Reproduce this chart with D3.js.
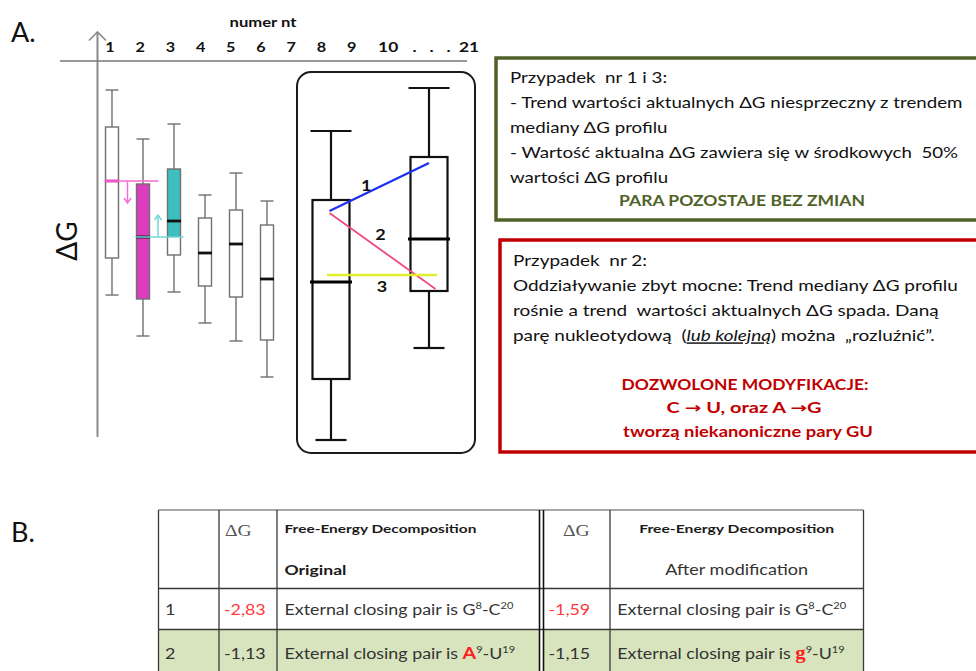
<!DOCTYPE html>
<html>
<head>
<meta charset="utf-8">
<script src="https://cdn.jsdelivr.net/npm/d3@7"></script>
<style>
  body { margin: 0; background: #fff; }
  svg { display: block; }
  text { white-space: pre; }
</style>
</head>
<body>
<svg id="fig" width="976" height="671"></svg>
<script>
// ---- top axis: nucleotide numbers ----
const ntLabels = ["1", "2", "3", "4", "5", "6", "7", "8", "9", "10", ". . .", "21"];

// ---- ΔG profile boxes, nucleotides 1–6 (schematic ΔG units) ----
const profileNt     = ["1", "2", "3", "4", "5", "6"];
const profileHigh   = [-2.9, -7.8, -6.3, -13.4, -11.2, -14.0];
const profileQ3     = [-6.6, -12.3, -10.8, -15.7, -14.9, -16.4];
const profileMedian = [-12.0, -17.6, -16.0, -19.2, -18.3, -21.8];
const profileQ1     = [-19.7, -23.8, -19.4, -22.5, -23.6, -27.9];
const profileLow    = [-23.4, -27.5, -23.1, -26.2, -28.0, -31.6];

// actual ΔG of the pair at nt 1 and nt 2 and the direction of its trend
const actualNt    = ["1", "2"];
const actualDG    = [-12.0, -17.6];
const actualShift = [-2.2, 2.2];

// ---- boxed comparison, nt 8 against nt 10…21 ----
const caseNt     = ["8", "10…21"];
const caseHigh   = [-7.0, -2.7];
const caseQ3     = [-13.9, -9.6];
const caseMedian = [-22.1, -17.8];
const caseQ1     = [-31.8, -23.0];
const caseLow    = [-37.9, -28.7];

// three possible trends of the actual ΔG between the two positions
const trendIds   = ["1", "2", "3"];
const trendStart = [-15.0, -15.2, -21.4];
const trendEnd   = [-10.2, -22.8, -21.4];

// ---- panel B table ----
const rowIds      = ["1", "2"];
const dgOriginal  = [-2.83, -1.13];
const dgModified  = [-1.59, -1.15];
const pairOriginal = [["G", "8", "C", "20"], ["A", "9", "U", "19"]];
const pairModified = [["G", "8", "C", "20"], ["g", "9", "U", "19"]];
const changedBase  = [false, true];

const SANS = "Lato, 'DejaVu Sans', sans-serif";
const SERIF = "'Liberation Serif', 'DejaVu Serif', serif";
const svg = d3.select("#fig");

// ---------- helpers ----------
function stretch(t, s) {
  const x = +t.attr("x");
  t.attr("transform", `translate(${x},0) scale(${s},1) translate(${-x},0)`);
}
function textLine(g, x, yb, segs, o = {}) {
  const t = g.append("text")
    .attr("x", x).attr("y", yb)
    .attr("font-family", o.family || SANS)
    .attr("font-size", o.size || 14)
    .attr("font-weight", o.weight || "normal")
    .attr("fill", o.color || "#1a1a1a")
    .attr("text-anchor", o.anchor || "start");
  let shift = 0;
  segs.forEach(s => {
    if (typeof s === "string") s = { t: s };
    const sp = t.append("tspan").text(s.t);
    const want = s.sup ? -6 : 0;
    if (want !== shift) { sp.attr("dy", want - shift); shift = want; }
    if (s.sup) sp.attr("font-size", (o.size || 14) * 0.62);
    if (s.italic) sp.attr("font-style", "italic");
    if (s.underline) sp.attr("text-decoration", "underline");
    if (s.bold) sp.attr("font-weight", "bold");
    if (s.color) sp.attr("fill", s.color);
    if (s.family) sp.attr("font-family", s.family);
    if (s.size) sp.attr("font-size", s.size);
  });
  return t;
}

// ---------- panel A: schematic axes ----------
svg.append("text").attr("x", 11).attr("y", 41.5)
  .attr("font-family", SANS).attr("font-size", 27).attr("fill", "#111").text("A.");

const y = d3.scaleLinear().domain([0, -40]).range([61, 461]);
const ntX = d3.scaleLinear().domain([1, 9]).range([110, 351.6]);
const xProfile = d3.scalePoint().domain(profileNt).range([112, 267]);
const xCase = d3.scalePoint().domain(caseNt).range([331, 429]);

const axes = svg.append("g");
axes.append("line").attr("x1", 97.5).attr("x2", 97.5).attr("y1", 32).attr("y2", 437)
  .attr("stroke", "#8a8a8a").attr("stroke-width", 2);
axes.append("path").attr("d", "M89,40.5 L97.5,32 L106,40.5")
  .attr("fill", "none").attr("stroke", "#8a8a8a").attr("stroke-width", 1.6);
axes.append("line").attr("x1", 60).attr("x2", 467).attr("y1", 61).attr("y2", 61)
  .attr("stroke", "#777").attr("stroke-width", 1.6);

const nt = axes.append("text").attr("x", 263).attr("y", 27)
  .attr("font-family", SANS).attr("font-weight", "bold").attr("font-size", 13.5)
  .attr("text-anchor", "middle").attr("fill", "#111").text("numer nt");
stretch(nt, 67 / nt.node().getComputedTextLength());

// numbers 1–9 sit on the nucleotide scale; "10 . . . 21" follows as running text
const topY = 52.5;
ntLabels.slice(0, 9).forEach((t, i) => {
  const lab = axes.append("text").attr("x", ntX(i + 1)).attr("y", topY)
    .attr("font-family", SANS).attr("font-weight", "bold").attr("font-size", 13.5)
    .attr("text-anchor", "middle").attr("fill", "#111").text(t);
  stretch(lab, 1.2);
});
const tail = axes.append("text").attr("x", ntX(9) + 26.5).attr("y", topY)
  .attr("font-family", SANS).attr("font-weight", "bold").attr("font-size", 13.5).attr("fill", "#111");
tail.append("tspan").text(ntLabels[9]);
tail.append("tspan").attr("dx", 11).attr("letter-spacing", 3.4).text(ntLabels[10]);
tail.append("tspan").attr("dx", 3).text(ntLabels[11]);
stretch(tail, 83 / tail.node().getComputedTextLength());

svg.append("text").attr("transform", "translate(76.5,241) rotate(-90)")
  .attr("font-family", SANS).attr("font-size", 28).attr("text-anchor", "middle")
  .attr("fill", "#111").text("ΔG");

// ---------- profile boxes ----------
const profile = profileNt.map((nt, i) => ({
  nt, hi: profileHigh[i], q3: profileQ3[i], med: profileMedian[i], q1: profileQ1[i], lo: profileLow[i]
}));
const pw = 13, grey = "#707070";
const pg = svg.append("g");
profile.forEach(d => {
  const cx = xProfile(d.nt);
  const b = pg.append("g");
  b.append("line").attr("x1", cx).attr("x2", cx).attr("y1", y(d.hi)).attr("y2", y(d.q3))
    .attr("stroke", grey).attr("stroke-width", 1.4);
  b.append("line").attr("x1", cx).attr("x2", cx).attr("y1", y(d.q1)).attr("y2", y(d.lo))
    .attr("stroke", grey).attr("stroke-width", 1.4);
  [d.hi, d.lo].forEach(v => b.append("line")
    .attr("x1", cx - pw / 2).attr("x2", cx + pw / 2).attr("y1", y(v)).attr("y2", y(v))
    .attr("stroke", grey).attr("stroke-width", 1.4));
  let fill = "#fff";
  if (d.nt === "2") fill = "#dd3cbe";
  b.append("rect").attr("x", cx - pw / 2).attr("y", y(d.q3)).attr("width", pw)
    .attr("height", y(d.q1) - y(d.q3)).attr("fill", fill);
  if (d.nt === "3") {
    // part of the box above the actual ΔG of nt 2
    b.append("rect").attr("x", cx - pw / 2).attr("y", y(d.q3)).attr("width", pw)
      .attr("height", y(actualDG[1]) - y(d.q3)).attr("fill", "#3ebfbf");
  }
  b.append("rect").attr("x", cx - pw / 2).attr("y", y(d.q3)).attr("width", pw)
    .attr("height", y(d.q1) - y(d.q3)).attr("fill", "none")
    .attr("stroke", grey).attr("stroke-width", 1.4);
  b.append("line").attr("x1", cx - pw / 2 - 0.5).attr("x2", cx + pw / 2 + 0.5)
    .attr("y1", y(d.med)).attr("y2", y(d.med))
    .attr("stroke", d.nt === "1" ? "#d8229a" : "#111").attr("stroke-width", 2.8);
});

// actual ΔG levels with their trend arrows
const levelColors = ["#f46ad6", "#6fd6d6"];
actualNt.forEach((nt, i) => {
  const next = profileNt[profileNt.indexOf(nt) + 1];
  const x0 = xProfile(nt) - pw / 2 - 1;
  const x1 = xProfile(next) + pw / 2 + (i === 0 ? 9 : 3);
  const ly = y(actualDG[i]);
  const c = levelColors[i];
  pg.append("line").attr("x1", x0).attr("x2", x1).attr("y1", ly).attr("y2", ly)
    .attr("stroke", c).attr("stroke-width", i === 0 ? 1.4 : 1.6);
  const ax = (xProfile(nt) + xProfile(next)) / 2 + (i === 0 ? 0 : -0.5);
  const ay = y(actualDG[i] + actualShift[i]);
  const dir = Math.sign(ay - ly);
  pg.append("line").attr("x1", ax).attr("x2", ax).attr("y1", ly).attr("y2", ay)
    .attr("stroke", c).attr("stroke-width", 1.4);
  pg.append("path")
    .attr("d", `M${ax - 3.5},${ay - dir * 5} L${ax},${ay} L${ax + 3.5},${ay - dir * 5}`)
    .attr("fill", "none").attr("stroke", c).attr("stroke-width", 1.4);
});

// ---------- boxed comparison ----------
const cg = svg.append("g");
cg.append("rect").attr("x", 297).attr("y", 72).attr("width", 178).attr("height", 381)
  .attr("rx", 14).attr("fill", "none").attr("stroke", "#1a1a1a").attr("stroke-width", 2);
const cw = 37;
caseNt.forEach((nt, i) => {
  const cx = xCase(nt);
  const hi = caseHigh[i], q3 = caseQ3[i], med = caseMedian[i], q1 = caseQ1[i], lo = caseLow[i];
  cg.append("line").attr("x1", cx).attr("x2", cx).attr("y1", y(hi)).attr("y2", y(q3))
    .attr("stroke", "#111").attr("stroke-width", 2.2);
  cg.append("line").attr("x1", cx).attr("x2", cx).attr("y1", y(q1)).attr("y2", y(lo))
    .attr("stroke", "#111").attr("stroke-width", 2.2);
  cg.append("line").attr("x1", cx - 20.5).attr("x2", cx + 20.5).attr("y1", y(hi)).attr("y2", y(hi))
    .attr("stroke", "#111").attr("stroke-width", 2.2);
  cg.append("line").attr("x1", cx - 15.5).attr("x2", cx + 15.5).attr("y1", y(lo)).attr("y2", y(lo))
    .attr("stroke", "#111").attr("stroke-width", 2.2);
  cg.append("rect").attr("x", cx - cw / 2).attr("y", y(q3)).attr("width", cw)
    .attr("height", y(q1) - y(q3)).attr("fill", "#fff").attr("stroke", "#111").attr("stroke-width", 2.2);
  cg.append("line").attr("x1", cx - cw / 2 - 2.5).attr("x2", cx + cw / 2 + 2.5)
    .attr("y1", y(med)).attr("y2", y(med)).attr("stroke", "#000").attr("stroke-width", 3);
});

const trendColors = ["#1c30f0", "#f04a80", "#e2ef2c"];
const trendWidths = [2.3, 1.8, 2.3];
const trendX0 = [-1.5, -1.5, -4];
const trendX1 = [0, 6.5, 8];
trendIds.forEach((id, i) => {
  const xa = xCase(caseNt[0]) + trendX0[i], xb = xCase(caseNt[1]) + trendX1[i];
  cg.append("line").attr("x1", xa).attr("x2", xb)
    .attr("y1", y(trendStart[i])).attr("y2", y(trendEnd[i]))
    .attr("stroke", trendColors[i]).attr("stroke-width", trendWidths[i]);
});
// labels of the three trends
const labelAt = [[0.37, -2], [0.48, -9.5], [0.5, 17]];
trendIds.forEach((id, i) => {
  const xa = xCase(caseNt[0]) + trendX0[i], xb = xCase(caseNt[1]) + trendX1[i];
  const t = labelAt[i][0];
  const lx = xa + (xb - xa) * t;
  const ly = y(trendStart[i] + (trendEnd[i] - trendStart[i]) * t) + labelAt[i][1];
  const lab = cg.append("text").attr("x", lx).attr("y", ly)
    .attr("font-family", SANS).attr("font-weight", "bold").attr("font-size", 15)
    .attr("text-anchor", "middle").attr("fill", "#111").text(id);
  stretch(lab, 1.2);
});

// ---------- case descriptions ----------
const green = "#4f6228", red = "#c00000";
const gb = svg.append("g");
gb.append("rect").attr("x", 496).attr("y", 58).attr("width", 520).attr("height", 162)
  .attr("fill", "none").attr("stroke", green).attr("stroke-width", 3.5);
const gLines = [
  ["Przypadek  nr 1 i 3:"],
  ["- Trend wartości aktualnych ΔG niesprzeczny z trendem"],
  ["mediany ΔG profilu"],
  ["- Wartość aktualna ΔG zawiera się w środkowych  50%"],
  ["wartości ΔG profilu"]
];
const gTexts = gLines.map((segs, i) => textLine(gb, 510, 83.5 + i * 24.8, segs, { size: 14.5, color: "#111" }));
const gS = 453 / gTexts[1].node().getComputedTextLength();
gTexts.forEach(t => stretch(t, gS));
const gHead = textLine(gb, 742, 206.5, ["PARA POZOSTAJE BEZ ZMIAN"],
  { size: 14.5, weight: "bold", color: green, anchor: "middle" });
stretch(gHead, 246 / gHead.node().getComputedTextLength());

const rb = svg.append("g");
rb.append("rect").attr("x", 500).attr("y", 240).attr("width", 520).attr("height", 212)
  .attr("fill", "none").attr("stroke", red).attr("stroke-width", 3.5);
const rLines = [
  ["Przypadek  nr 2:"],
  ["Oddziaływanie zbyt mocne: Trend mediany ΔG profilu"],
  ["rośnie a trend  wartości aktualnych ΔG spada. Daną"],
  ["parę nukleotydową  (", { t: "lub kolejną", italic: true, underline: true }, ") można  „rozluźnić”."]
];
const rTexts = rLines.map((segs, i) => textLine(rb, 513, 266.5 + i * 25, segs, { size: 14.5, color: "#111" }));
const rS = 445 / rTexts[1].node().getComputedTextLength();
rTexts.forEach(t => stretch(t, rS));
const rBold = [
  [["DOZWOLONE MODYFIKACJE:"], 745, 390, 247],
  [["C ", { t: "→", family: "'DejaVu Sans', sans-serif" }, " U, oraz A ", { t: "→", family: "'DejaVu Sans', sans-serif" }, "G"], 744, 413.5, 155],
  [["tworzą niekanoniczne pary GU"], 748, 437, 250]
];
rBold.forEach(([segs, x, yb, w]) => {
  const t = textLine(rb, x, yb, segs, { size: 14.5, weight: "bold", color: red, anchor: "middle" });
  stretch(t, w / t.node().getComputedTextLength());
});

// ---------- panel B: energy table ----------
svg.append("text").attr("x", 11).attr("y", 541.5)
  .attr("font-family", SANS).attr("font-size", 27).attr("fill", "#111").text("B.");

const tb = svg.append("g");
const rowTop = [588.5, 629.5], rowBottom = [629.5, 680];
// row 2 shading
tb.append("rect").attr("x", 158.5).attr("y", rowTop[1]).attr("width", 863.5 - 158.5)
  .attr("height", rowBottom[1] - rowTop[1]).attr("fill", "#d7e4bd");
tb.append("rect").attr("x", 539.5).attr("y", rowTop[1]).attr("width", 4)
  .attr("height", rowBottom[1] - rowTop[1]).attr("fill", "#fff");
// grid
tb.append("line").attr("x1", 158.5).attr("x2", 863.5).attr("y1", 510).attr("y2", 510)
  .attr("stroke", "#8a8a8a").attr("stroke-width", 1.3);
[588.5, 629.5].forEach(v => tb.append("line").attr("x1", 158.5).attr("x2", 863.5)
  .attr("y1", v).attr("y2", v).attr("stroke", "#3a3a3a").attr("stroke-width", 1.3));
[158.5, 219, 277, 610, 863.5].forEach(v => tb.append("line").attr("x1", v).attr("x2", v)
  .attr("y1", 510).attr("y2", 671).attr("stroke", "#3a3a3a").attr("stroke-width", 1.3));
[539.5, 543.5].forEach(v => tb.append("line").attr("x1", v).attr("x2", v)
  .attr("y1", 510).attr("y2", 671).attr("stroke", "#111").attr("stroke-width", 1.6));

// table text
const cellText = "#333";
const refRow = textLine(tb, 284.5, 615, ["External closing pair is G", { t: "8", sup: true }, "-C", { t: "20", sup: true }],
  { size: 15.5, color: cellText });
const tS = 229 / refRow.node().getComputedTextLength();
refRow.remove();

function cell(x, yb, segs, o) {
  const t = textLine(tb, x, yb, segs, Object.assign({ size: 15.5, color: cellText }, o || {}));
  stretch(t, tS);
  return t;
}
cell(225, 536.5, ["ΔG"], { family: SERIF, size: 17, color: "#555" });
cell(563, 536.5, ["ΔG"], { family: SERIF, size: 17, color: "#555" });
const fe1 = textLine(tb, 284.5, 533.5, ["Free-Energy Decomposition"], { size: 12, weight: "bold", color: "#1a1a1a" });
stretch(fe1, 192 / fe1.node().getComputedTextLength());
const fe2 = textLine(tb, 736.7, 533.5, ["Free-Energy Decomposition"], { size: 12, weight: "bold", color: "#1a1a1a", anchor: "middle" });
stretch(fe2, 195 / fe2.node().getComputedTextLength());
const og = textLine(tb, 284.5, 575, ["Original"], { size: 14, weight: "bold", color: "#1a1a1a" });
stretch(og, 62 / og.node().getComputedTextLength());
const am = textLine(tb, 736.7, 575, ["After modification"], { size: 14.5, color: cellText, anchor: "middle" });
stretch(am, 143 / am.node().getComputedTextLength());

// ΔG values written with a hyphen and a decimal comma
const fmt = v => d3.format(".2f")(v).replace("\u2212", "-").replace(".", ",");
const rowBase = [615, 659];
rowIds.forEach((id, i) => {
  const yb = rowBase[i];
  const valColor = changedBase[i] ? "#333" : "#ff3b3b";
  cell(165, yb, [id]);
  cell(224, yb, [fmt(dgOriginal[i])], { color: valColor });
  cell(548.5, yb, [fmt(dgModified[i])], { color: valColor });
  const po = pairOriginal[i], pm = pairModified[i];
  const baseO = changedBase[i]
    ? { t: po[0], bold: true, color: "#ff2020", size: 17 }
    : { t: po[0] };
  const baseM = changedBase[i]
    ? { t: pm[0], bold: true, color: "#ff2020", family: SERIF, size: 18 }
    : { t: pm[0] };
  cell(284.5, yb, ["External closing pair is ", baseO, { t: po[1], sup: true }, "-" + po[2], { t: po[3], sup: true }]);
  cell(617.3, yb, ["External closing pair is ", baseM, { t: pm[1], sup: true }, "-" + pm[2], { t: pm[3], sup: true }]);
});
</script>
</body>
</html>
